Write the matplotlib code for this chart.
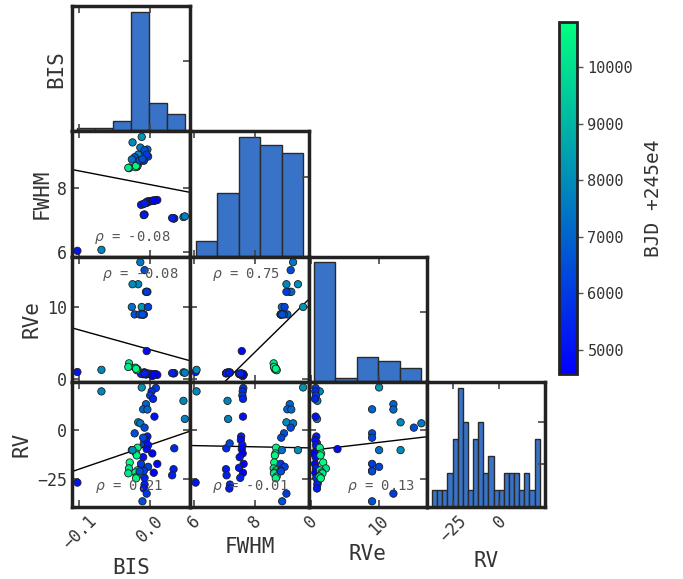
import numpy as np
import matplotlib
matplotlib.use("Agg")
import matplotlib.pyplot as plt
from matplotlib import colors

# corner plot of activity indicators vs RV, coloured by epoch

plt.rcParams['font.family'] = ['DejaVu Sans Mono', 'DejaVu Sans']
plt.rcParams['ytick.labelsize'] = 12
plt.rcParams['xtick.labelsize'] = 12

bis = [-0.103, -0.069,
       0.047, 0.049, 0.034, 0.033, 0.031, -0.009, -0.008, -0.009,
       0.008, 0.002, 0.000, 0.004, 0.006, -0.004, -0.006, -0.003, -0.005, 0.003,
       -0.010, 0.010, -0.013, 0.005, -0.008,
       -0.018, -0.020, -0.019, -0.029, -0.030, -0.018, -0.021, -0.031, -0.019, -0.020,
       -0.012, -0.006, -0.010, -0.004, -0.017, -0.014, -0.008, -0.022, -0.010, -0.026,
       -0.025, -0.013, -0.003, -0.009, -0.015, -0.005, -0.011]
fwhm = [6.05, 6.08,
        7.10, 7.12, 7.06, 7.05, 7.07, 7.17, 7.18, 7.16,
        7.62, 7.60, 7.59, 7.61, 7.61, 7.55, 7.54, 7.59, 7.57, 7.60,
        7.50, 7.63, 7.48, 7.61, 7.52,
        8.70, 8.68, 8.66, 8.64, 8.62, 8.70, 8.65, 8.63, 8.72, 8.69,
        9.59, 9.15, 9.07, 9.20, 9.04, 9.26, 9.18, 8.96, 8.87, 8.89,
        9.42, 8.85, 8.98, 8.85, 8.86, 9.04, 8.90]
rve = [1.00, 1.30,
       0.95, 0.90, 0.85, 0.80, 0.85, 0.90, 0.95, 0.90,
       0.70, 0.65, 0.75, 0.60, 0.70, 0.80, 0.65, 0.75, 3.90, 0.44,
       0.70, 0.60, 0.75, 0.65, 0.80,
       1.30, 1.50, 1.40, 1.80, 2.20, 1.35, 1.60, 1.70, 1.25, 1.45,
       10.0, 12.1, 8.97, 12.1, 13.15, 16.2, 15.1, 8.97, 8.97, 10.0,
       13.15, 8.97, 10.0, 8.97, 8.97, 12.1, 8.97]
rv = [-26.7, 19.6,
      14.8, 5.6, -9.3, -19.9, -23.0, -6.8, -27.7, -29.7,
      21.3, 19.6, 17.5, 15.8, 6.8, -3.3, -5.1, -7.7, -9.7, -11.9,
      -13.8, -17.2, -19.2, -21.7, -24.3,
      -9.0, -11.9, -12.9, -16.5, -19.5, -20.5, -21.6, -22.0, -23.6, -24.5,
      21.6, 13.1, 10.5, 10.4, 3.9, 3.4, 1.2, -1.7, -3.9, -10.2,
      -10.2, -17.2, -18.7, -20.7, -21.0, -32.3, -36.2]
bjd = [5100, 7900,
       7800, 7700, 5600, 5300, 5400, 6300, 5500, 5200,
       5900, 5700, 6000, 5500, 5000, 5300, 4900, 5100, 4800, 4600,
       5000, 4700, 5200, 4575, 5400,
       10500, 10300, 10600, 10800, 10100, 10400, 10700, 10200, 10000, 10600,
       8200, 7000, 7000, 7100, 7900, 7500, 6400, 6500, 6300, 7300,
       8000, 6000, 6200, 6100, 6400, 6000, 6500]

names = ["BIS", "FWHM", "RVe", "RV"]
nbins = [6, 5, 5, 21]
ticks = [[-0.1, 0.0], [6, 8], [0, 10], [-25, 0]]
# correlation coefficients as printed in the panels
rho_labels = {(1, 0): "-0.08", (2, 0): "-0.08", (2, 1): "0.75",
              (3, 0): "0.21", (3, 1): "-0.01", (3, 2): "0.13"}
rho_pos = {(1, 0): (0.51, 0.15), (2, 0): (0.58, 0.86), (2, 1): (0.47, 0.86),
           (3, 0): (0.48, 0.16), (3, 1): (0.51, 0.16), (3, 2): (0.61, 0.16)}

data = [np.array(bis), np.array(fwhm), np.array(rve), np.array(rv)]
bjd = np.array(bjd)
lims = []
for d in data:
    r = d.max() - d.min()
    lims.append((d.min() - 0.05 * r, d.max() + 0.05 * r))

fig = plt.figure(figsize=(6.83, 5.79), dpi=100)
L, R = 72 / 683, 545 / 683
B, T = 1 - 507 / 579, 1 - 6 / 579
w, h = (R - L) / 4, (T - B) / 4

norm = colors.Normalize(vmin=bjd.min(), vmax=bjd.max())
txt = '#333333'
sc = None
for i in range(4):
    for j in range(i + 1):
        ax = fig.add_axes([L + j * w, T - (i + 1) * h, w, h])
        for s in ax.spines.values():
            s.set_linewidth(2.5)
            s.set_color('#222222')
        ax.set_xlim(lims[j])
        ax.set_xticks(ticks[j])
        if i == j:
            ax.hist(data[j], bins=nbins[j], color='#3873c8', edgecolor='#2a2a2a', lw=1)
            ax.set_xlim(lims[j])
            ax.yaxis.tick_right()
            ax.tick_params(axis='y', direction='in', length=5, width=1.2, color='#444444',
                           labelright=False, left=False)
            ax.tick_params(axis='x', direction='in', length=5, width=1.2, color='#444444',
                           top=True, bottom=True, labelbottom=(i == 3))
        else:
            x, y = data[j], data[i]
            p = np.polyfit(x, y, 1)
            xs = np.array(lims[j])
            ax.plot(xs, np.polyval(p, xs), color='k', lw=1, zorder=1)
            sc = ax.scatter(x, y, c=bjd, cmap='winter', norm=norm, s=28,
                            edgecolors='#1e1e1e', linewidths=0.6, zorder=2)
            ax.set_ylim(lims[i])
            ax.set_yticks(ticks[i])
            ax.tick_params(direction='in', length=5, width=1.2, color='#444444',
                           top=True, right=True, labelleft=(j == 0),
                           labelbottom=(i == 3), labelcolor=txt)
            px, py = rho_pos[(i, j)]
            ax.text(px, py, r"$\rho$ = " + rho_labels[(i, j)], transform=ax.transAxes,
                    ha='center', va='center', fontsize=10, color='#555555')
        ax.tick_params(labelcolor=txt)
        if i == 3:
            for lab in ax.get_xticklabels():
                lab.set_rotation(45)
            ax.set_xlabel(names[j], fontsize=15, color=txt)
        if j == 0:
            ax.set_ylabel(names[i], fontsize=15, color=txt)

cax = fig.add_axes([559 / 683, 1 - 374 / 579, 18 / 683, 352 / 579])
cb = fig.colorbar(sc, cax=cax)
cb.outline.set_linewidth(2)
cb.outline.set_edgecolor('#222222')
cax.tick_params(labelsize=11, labelcolor=txt, color='#555555', length=4, width=1)
cb.set_label("BJD +245e4", fontsize=14, color=txt, labelpad=8)

fig.savefig("out.png", dpi=100)
